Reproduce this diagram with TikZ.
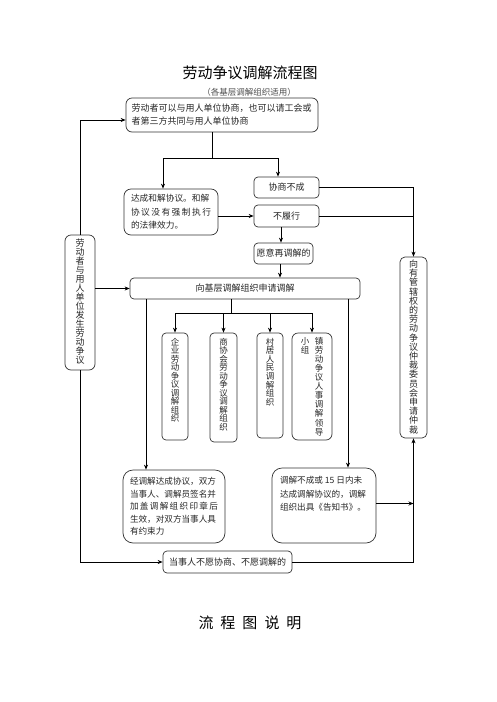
\documentclass[tikz,border=0pt]{standalone}
\usepackage{fontspec}
\setmainfont{Noto Sans CJK SC}
\usepackage{tikz}
\usetikzlibrary{arrows.meta,positioning,calc}
\XeTeXlinebreaklocale "zh"
\XeTeXlinebreakskip=0pt plus 1pt
\newcommand{\zong}[2]{\parbox[c][#1][t]{10pt}{\centering #2}}

\begin{document}
\begin{tikzpicture}[x=1pt,y=-1pt,font=\fontsize{9}{11}\selectfont]
    \tikzset{
        kuang/.style={draw=black!80, line width=0.7pt, rounded corners=4pt, inner sep=0pt, align=center, text=black!85},
        jt/.style={-{Stealth[length=5pt,width=4pt]}, line width=0.8pt},
        xian/.style={line width=0.8pt}
    }
    \useasboundingbox (0,0) rectangle (496,702);

    % title
    \node (biaoti) at (250,73) {\fontsize{15}{15}\selectfont 劳动争议调解流程图};
    \node[text=black!70] (shiyong) at (249,92) {\fontsize{8.5}{9}\selectfont （各基层调解组织适用）};

    % xieshang
    \node[kuang, rounded corners=6pt, minimum width=192pt, minimum height=34pt, text width=181pt, align=left, font=\fontsize{9}{13}\selectfont] (xieshang) at (222,115) {劳动者可以与用人单位协商，也可以请工会或\\者第三方共同与用人单位协商};

    % fasheng (left)
    \node[kuang, rounded corners=6pt, minimum width=30pt, minimum height=135pt, font=\fontsize{9}{9}\selectfont] (fasheng) at (80,302.5) {\zong{127pt}{劳动者与用人单位发生劳动争议}};

    % zhongcai (right)
    \node[kuang, rounded corners=5pt, minimum width=27pt, minimum height=181pt, font=\fontsize{9}{9.2}\selectfont] (zhongcai) at (413.5,347.5) {\zong{175pt}{向有管辖权的劳动争议仲裁委员会申请仲裁}};

    % bucheng1, bulvxing, hejie
    \node[kuang, minimum width=65pt, minimum height=21pt] (bucheng1) at (286.5,187.5) {协商不成};
    \node[kuang, minimum width=65pt, minimum height=22pt] (bulvxing) at (286.5,216) {不履行};
    \node[kuang, rounded corners=7pt, minimum width=94pt, minimum height=46pt, text width=80pt, align=left, font=\fontsize{8.7}{13.5}\selectfont] (hejie) at (171,212) {达成和解协议。和解\\协\hfill 议\hfill 没\hfill 有\hfill 强\hfill 制\hfill 执\hfill 行\\的法律效力。};

    % zaitiaojie, shenqing
    \node[kuang, minimum width=59pt, minimum height=21pt] (zaitiaojie) at (283.5,253.5) {愿意再调解的};
    \node[kuang, minimum width=230pt, minimum height=21pt] (shenqing) at (245,288.5) {向基层调解组织申请调解};

    % four organisations
    \node[kuang, minimum width=26pt, minimum height=107pt, font=\fontsize{8.5}{8.5}\selectfont] (qiye) at (175,386.5) {\zong{97pt}{企业劳动争议调解组织}};
    \node[kuang, minimum width=27pt, minimum height=109pt, font=\fontsize{8.5}{8.5}\selectfont] (shanghui) at (223.5,387.5) {\zong{99pt}{商协会劳动争议调解组织}};
    \node[kuang, minimum width=26pt, minimum height=105pt, font=\fontsize{8.5}{8.6}\selectfont] (cunju) at (270,385.5) {\zong{95pt}{村居人民调解组织}};
    \node[kuang, rounded corners=6pt, minimum width=40pt, minimum height=107pt, font=\fontsize{8.5}{9.1}\selectfont] (zhen) at (312,386.5) {\zong{99pt}{小组}\hspace{4pt}\zong{99pt}{镇劳动争议人事调解领导}};

    % chenggong, shibai
    \node[kuang, rounded corners=10pt, minimum width=102pt, minimum height=73pt, text width=88pt, align=left, font=\fontsize{8.6}{12.5}\selectfont] (chenggong) at (174,506.5) {经调解达成协议，双方\\当事人、调解员签名并\\加\hfill 盖\hfill 调\hfill 解\hfill 组\hfill 织\hfill 印\hfill 章\hfill 后\\生效，对双方当事人具\\有约束力};
    \node[kuang, rounded corners=10pt, minimum width=104pt, minimum height=75pt, font=\fontsize{8.6}{13.5}\selectfont] (shibai) at (324,505.5) {\parbox[c][58pt][t]{88pt}{\raggedright 调解不成或 15 日内未\\达成调解协议的，调解\\组织出具《告知书》。}};

    % buyuan
    \node[kuang, minimum width=129pt, minimum height=22pt] (buyuan) at (227.5,562) {当事人不愿协商、不愿调解的};

    % shuoming
    \node (shuoming) at (250,623) {\fontsize{15}{15}\selectfont 流\hspace{7pt}程\hspace{7pt}图\hspace{7pt}说\hspace{7pt}明};

    % arrows
    \coordinate (fen1) at (212,158);
    \draw[xian] ([xshift=-10pt]xieshang.south) -- (fen1);
    \draw[jt] (fen1) -| ([xshift=-8pt]hejie.north);
    \draw[jt] (fen1) -| ([xshift=-8.5pt]bucheng1.north);
    \draw[jt] (bucheng1.east) -| (zhongcai.north);
    \draw[jt] (hejie.east |- bulvxing.west) -- (bulvxing.west);
    \draw[xian] (bulvxing.east) -- (bulvxing.east -| zhongcai.north);
    \draw[jt] ([xshift=-5.5pt]bulvxing.south) -- ([xshift=-5.5pt]bulvxing.south |- zaitiaojie.north);
    \draw[jt] ([xshift=-3.5pt]zaitiaojie.south) -- ([xshift=-3.5pt]zaitiaojie.south |- shenqing.north);
    \draw[jt] (fasheng.north) |- ([yshift=-5pt]xieshang.west);
    \draw[jt] (fasheng.east |- shenqing.west) -- (shenqing.west);

    \coordinate (fen2) at (231,313);
    \draw[xian] (fen2 |- shenqing.south) -- (fen2);
    \draw[xian] (qiye.north |- fen2) -- (zhen.north |- fen2);
    \foreach \zuzhi in {qiye,shanghui,cunju,zhen}
        \draw[jt] (\zuzhi.north |- fen2) -- (\zuzhi.north);

    \draw[jt] ([xshift=-28pt]chenggong.north |- shenqing.south) -- ([xshift=-28pt]chenggong.north);
    \draw[jt] ([xshift=24pt]shibai.north |- shenqing.south) -- ([xshift=24pt]shibai.north);
    \draw[jt] ([yshift=2pt]shibai.east) -- ([yshift=2pt]shibai.east -| zhongcai.south);
    \draw[jt] (fasheng.south) |- (buyuan.west);
    \draw[jt] (buyuan.east) -| (zhongcai.south);
\end{tikzpicture}
\end{document}
